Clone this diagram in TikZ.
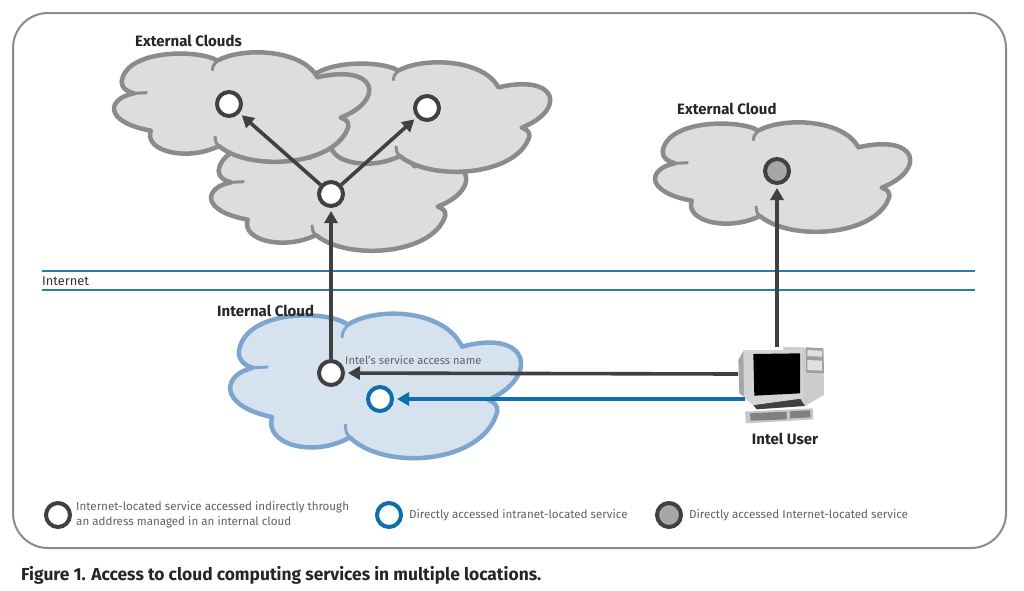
\documentclass[tikz,border=0pt]{standalone}
\usepackage{fontspec}
\setmainfont{Fira Sans}
\usetikzlibrary{arrows.meta}
\definecolor{inkdark}{HTML}{3F4040}
\definecolor{cloudgray}{HTML}{DCDDDD}
\definecolor{cloudedge}{HTML}{8A8B8B}
\definecolor{cloudblue}{HTML}{D6E3EE}
\definecolor{edgeblue}{HTML}{7DA5CD}
\definecolor{intelblue}{HTML}{0F6EAC}
\definecolor{netblue}{HTML}{2A7BAE}
\definecolor{fillgray}{HTML}{A5A7A8}
\definecolor{legendtext}{HTML}{606162}
\newcommand{\blob}[2]{%
    \begin{scope}[#1, scale=1/3, line width=4.5pt, line join=round]
        \draw[#2] (355,122) .. controls (300,87) and (80,87) .. (68,185)
            .. controls (68,205) and (85,215) .. (105,220)
            .. controls (25,235) and (10,305) .. (155,332)
            .. controls (135,395) and (265,425) .. (360,378)
            .. controls (450,455) and (710,440) .. (748,320)
            .. controls (750,305) and (740,298) .. (725,293)
            .. controls (860,240) and (835,130) .. (655,172)
            .. controls (610,87) and (430,80) .. cycle;
        \draw[#2, fill=none, line width=3pt] (340,152) .. controls (340,140) .. (355,122);
        \draw[#2, fill=none, line width=3pt] (105,220) -- (145,218);
        \draw[#2, fill=none, line width=3pt] (360,378) .. controls (350,368) .. (348,348);
    \end{scope}}
\begin{document}
\begin{tikzpicture}[x=1pt, y=-1pt,
    svc/.style={circle, draw=inkdark, line width=4pt, fill=white, minimum size=24pt, inner sep=0pt},
    svcblue/.style={svc, draw=intelblue},
    svcgray/.style={svc, fill=fillgray},
    arrow/.style={-{Triangle[length=12pt, width=13pt]}, line width=3.6pt, draw=inkdark, shorten >=3pt},
    arrowblue/.style={arrow, draw=intelblue},
    netline/.style={netblue, line width=1.4pt},
    head/.style={anchor=west, font=\fontsize{15}{17}\selectfont\bfseries, text=black!85, inner sep=0pt},
    legend/.style={anchor=west, align=left, font=\fontsize{11.6}{15}\selectfont, text=legendtext, inner sep=0pt}
]
    \useasboundingbox (0,0) rectangle (1024,590);
    \fill[white] (0,0) rectangle (1024,590);
    \draw[cloudedge, line width=2pt, rounded corners=35pt] (13,13) rectangle (1006,548);

    % Internet band
    \coordinate (netAw) at (42,271);
    \coordinate (netAe) at (975,271);
    \coordinate (netBw) at (42,290);
    \coordinate (netBe) at (975,290);
    \draw[netline] (netAw) -- (netAe);
    \draw[netline] (netBw) -- (netBe);
    \node[legend, text=black!80, font=\fontsize{12.8}{15}\selectfont] (inet) at (42,281) {Internet};

    % Clouds
    \blob{shift={(196,109)}}{draw=cloudedge, fill=cloudgray}
    \blob{shift={(280,30)}}{draw=cloudedge, fill=cloudgray}
    \blob{shift={(99,20)}}{draw=cloudedge, fill=cloudgray}
    \blob{shift={(640,90)}}{draw=cloudedge, fill=cloudgray}
    \blob{shift={(213,271)}, xscale=1.14, yscale=1.32}{draw=edgeblue, fill=cloudblue}

    % Labels
    \node[head] (extclouds) at (135,41) {External Clouds};
    \node[head] (extcloud) at (677,109) {External Cloud};
    \node[head] (intcloud) at (217,311) {Internal Cloud};
    \node[legend, font=\fontsize{11.2}{15}\selectfont] (accname) at (345,360) {Intel's service access name};
    \node[head, anchor=center] (user) at (785,439) {Intel User};

    % Computer
    \begin{scope}[shift={(720,330)}, scale=1/3]
        \fill[black!20] (190,50) -- (310,55) -- (312,195) -- (255,228) -- (190,225) -- cycle;
        \fill[black!38] (258,52) -- (310,55) -- (312,130) -- (258,128) -- cycle;
        \fill[black!12] (262,60) -- (306,62) -- (306,80) -- (262,78) -- cycle;
        \fill[black!12] (262,90) -- (306,92) -- (306,122) -- (262,120) -- cycle;
        \fill[black!75] (100,225) -- (240,205) -- (255,228) -- (110,238) -- cycle;
        \fill[black!35] (55,90) -- (72,60) -- (72,200) -- (58,190) -- cycle;
        \fill[black!17] (70,60) -- (245,60) -- (250,205) -- (100,225) -- (72,205) -- cycle;
        \fill[black] (100,72) -- (240,70) -- (240,190) -- (103,197) -- cycle;
        \fill[black!22] (75,245) -- (278,235) -- (280,268) -- (78,280) -- cycle;
        \fill[black!50] (90,250) -- (200,245) -- (200,268) -- (92,272) -- cycle;
        \fill[black!50] (210,244) -- (270,241) -- (272,262) -- (210,265) -- cycle;
    \end{scope}
    \coordinate (pcdark) at (738,374);
    \coordinate (pcblue) at (745,399);
    \coordinate (pctop) at (777,347);

    % Services
    \node[svc] (left) at (229,104) {};
    \node[svc] (right) at (427,108) {};
    \node[svc] (mid) at (331,194) {};
    \node[svc] (access) at (331,373) {};
    \node[svcblue] (intra) at (380,399) {};
    \node[svcgray] (direct) at (777,171) {};

    % Arrows
    \draw[arrow] (access) -- (mid);
    \draw[arrow] (mid) -- (left);
    \draw[arrow] (mid) -- (right);
    \draw[arrow] (pcdark) -- (access);
    \draw[arrowblue] (pcblue) -- (intra);
    \draw[arrow] (pctop) -- (direct);

    % Legend
    \node[svc] (keyA) at (58,515) {};
    \node[legend] (textA) at (76,515) {Internet-located service accessed indirectly through\\an address managed in an internal cloud};
    \node[svcblue] (keyB) at (389,515) {};
    \node[legend] (textB) at (409,515) {Directly accessed intranet-located service};
    \node[svcgray] (keyC) at (669,515) {};
    \node[legend] (textC) at (689,515) {Directly accessed Internet-located service};

    % Caption
    \node[head, font=\fontsize{17.4}{20}\selectfont\bfseries] (caption) at (21,575) {Figure 1. Access to cloud computing services in multiple locations.};
\end{tikzpicture}
\end{document}
